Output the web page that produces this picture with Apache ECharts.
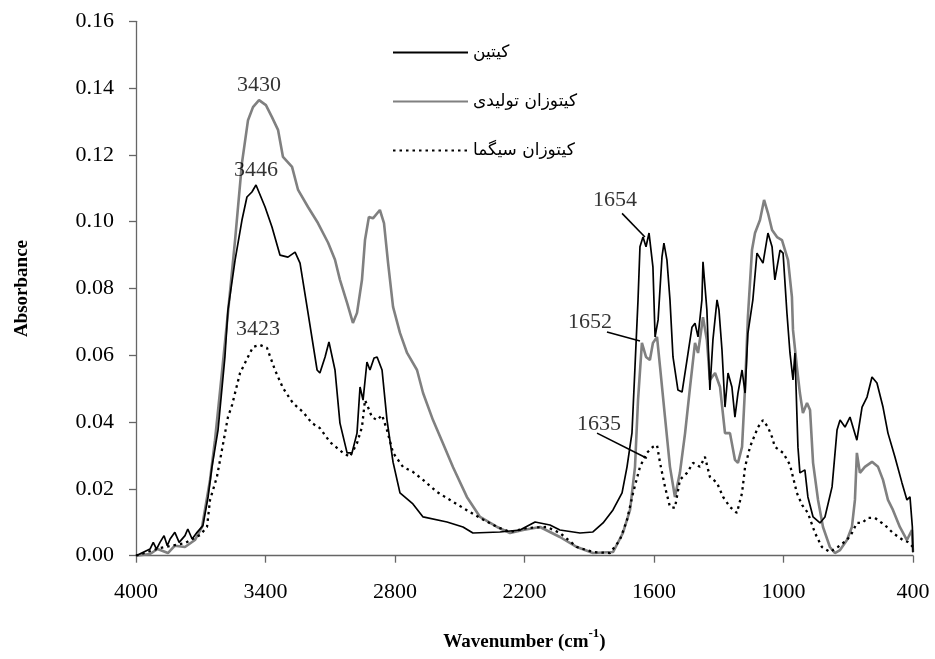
<!DOCTYPE html>
<html>
<head>
<meta charset="utf-8">
<script src="https://cdn.jsdelivr.net/npm/echarts@6/dist/echarts.min.js"></script>
<style>
html,body{margin:0;padding:0;background:#fff;}
#chart{width:935px;height:659px;}
</style>
</head>
<body>
<div id="chart"></div>
<script>
// ---- data ----
const seriesNames = ['کیتین', 'کیتوزان تولیدی', 'کیتوزان سیگما'];
const xTickValues = [4000, 3400, 2800, 2200, 1600, 1000, 400];

const chitinWn = [4000,3935,3920,3905,3889,3870,3855,3842,3820,3800,3773,3760,3740,3717,3690,3666,3648,3620,3588,3574,3541,3509,3486,3463,3444,3402,3370,3333,3296,3263,3240,3203,3161,3148,3124,3106,3078,3055,3022,2999,2976,2962,2948,2930,2916,2897,2883,2860,2837,2809,2777,2717,2670,2559,2485,2439,2314,2221,2151,2082,2036,1943,1883,1836,1790,1748,1725,1702,1688,1674,1665,1651,1637,1623,1605,1595,1581,1563,1554,1540,1526,1512,1489,1470,1447,1424,1410,1396,1378,1373,1355,1341,1327,1308,1299,1285,1271,1257,1239,1225,1211,1192,1178,1165,1142,1123,1095,1072,1053,1040,1016,1002,984,970,956,947,933,924,901,887,863,831,808,775,752,738,715,692,660,636,613,590,567,539,516,484,451,428,414,403,400];
const chitinAbs = [0.000,0.002,0.004,0.002,0.004,0.006,0.003,0.005,0.007,0.004,0.006,0.008,0.005,0.007,0.009,0.0176,0.0266,0.0376,0.0595,0.0735,0.0885,0.1005,0.1074,0.1089,0.1110,0.1044,0.0984,0.0900,0.0894,0.0909,0.0876,0.0727,0.0556,0.0547,0.0595,0.0640,0.0556,0.0397,0.0308,0.0308,0.0367,0.0505,0.0466,0.0580,0.0556,0.0592,0.0595,0.0556,0.0406,0.0280,0.0188,0.0155,0.0116,0.0101,0.0086,0.0068,0.0071,0.0077,0.0101,0.0092,0.0077,0.0068,0.0071,0.0098,0.0137,0.0188,0.0266,0.0368,0.0566,0.0766,0.0925,0.0954,0.0925,0.0966,0.0865,0.0655,0.0706,0.0895,0.0936,0.0885,0.0766,0.0595,0.0496,0.0490,0.0586,0.0684,0.0696,0.0655,0.0766,0.0880,0.0736,0.0496,0.0646,0.0766,0.0736,0.0616,0.0445,0.0547,0.0505,0.0415,0.0487,0.0556,0.0487,0.0666,0.0766,0.0906,0.0876,0.0966,0.0925,0.0826,0.0915,0.0906,0.0726,0.0607,0.0526,0.0607,0.0325,0.0248,0.0257,0.0176,0.0116,0.0098,0.0116,0.0206,0.0376,0.0406,0.0385,0.0415,0.0346,0.0445,0.0475,0.0535,0.0517,0.0445,0.0367,0.0296,0.0218,0.0167,0.0176,0.0086,0.001];

const producedWn = [4000,3935,3900,3852,3820,3773,3727,3694,3657,3634,3602,3574,3541,3509,3481,3458,3430,3398,3370,3342,3319,3277,3249,3203,3157,3110,3078,3055,3022,2995,2976,2953,2939,2921,2902,2870,2851,2832,2809,2777,2744,2698,2670,2624,2578,2531,2467,2406,2327,2267,2207,2128,2036,1957,1883,1790,1744,1711,1688,1674,1656,1637,1619,1605,1586,1572,1549,1526,1503,1480,1456,1433,1410,1396,1373,1355,1341,1317,1294,1271,1248,1225,1211,1192,1178,1165,1146,1132,1109,1090,1072,1053,1030,1007,993,979,961,956,938,924,910,891,877,863,840,817,785,762,738,706,683,669,660,646,623,590,562,539,516,493,461,428,405,400];
const producedAbs = [0.000,0.0005,0.002,0.0008,0.003,0.0026,0.0047,0.0086,0.0227,0.0346,0.0547,0.0727,0.0945,0.1176,0.1304,0.1343,0.1364,0.1349,0.1313,0.1275,0.1194,0.1164,0.1095,0.1044,0.0996,0.0937,0.0886,0.0826,0.0757,0.0697,0.0727,0.0826,0.0945,0.1014,0.1010,0.1035,0.0996,0.0876,0.0745,0.0667,0.0607,0.0556,0.0487,0.0406,0.0337,0.0265,0.0176,0.0116,0.0086,0.0068,0.0077,0.0086,0.0056,0.0026,0.0008,0.0011,0.0068,0.0137,0.0266,0.0466,0.0637,0.0595,0.0586,0.0637,0.0655,0.0565,0.0415,0.0266,0.0176,0.0248,0.0367,0.0505,0.0637,0.0607,0.0714,0.0646,0.0526,0.0547,0.0505,0.0367,0.0367,0.0287,0.0278,0.0326,0.0505,0.0714,0.0915,0.0966,0.1005,0.1065,0.1026,0.0975,0.0954,0.0945,0.0915,0.0885,0.0775,0.0676,0.0565,0.0487,0.0427,0.0457,0.0436,0.0278,0.0167,0.0086,0.0026,0.0008,0.0017,0.0047,0.0086,0.0167,0.0308,0.0248,0.0266,0.0281,0.0266,0.0227,0.0167,0.0137,0.0086,0.0047,0.0077,0.0011];

const sigmaWn = [4000,3889,3773,3703,3671,3657,3625,3602,3574,3555,3518,3495,3458,3426,3393,3356,3319,3273,3226,3185,3148,3101,3041,3009,2976,2953,2939,2925,2907,2883,2860,2837,2809,2763,2717,2670,2606,2545,2485,2406,2327,2267,2189,2096,2036,1957,1883,1804,1758,1725,1697,1665,1633,1605,1586,1572,1549,1526,1503,1480,1447,1419,1387,1364,1341,1308,1280,1248,1216,1192,1178,1155,1118,1095,1072,1053,1040,1002,970,938,914,887,854,822,785,748,706,683,660,636,609,576,544,521,493,447,424,400];
const sigmaAbs = [0.000,0.0023,0.0038,0.0062,0.0086,0.0167,0.0236,0.0316,0.0415,0.0451,0.0547,0.0577,0.0625,0.0631,0.0622,0.0556,0.0502,0.0457,0.0430,0.0397,0.0382,0.0340,0.0308,0.0296,0.0337,0.0385,0.0466,0.0445,0.0415,0.0406,0.0421,0.0376,0.0308,0.0266,0.0251,0.0227,0.0191,0.0167,0.0143,0.0113,0.0086,0.0071,0.0083,0.0086,0.0068,0.0026,0.0011,0.0008,0.0047,0.0107,0.0188,0.0266,0.0308,0.0326,0.0331,0.0278,0.0206,0.0146,0.0143,0.0227,0.0248,0.0278,0.0266,0.0296,0.0236,0.0218,0.0176,0.0146,0.0128,0.0188,0.0266,0.0326,0.0385,0.0406,0.0385,0.0355,0.0326,0.0308,0.0272,0.0188,0.0152,0.0128,0.0068,0.0026,0.0011,0.0026,0.0047,0.0068,0.0098,0.0098,0.0113,0.0113,0.0098,0.0086,0.0068,0.0047,0.0041,0.0026];

const peakLabels = ['3430', '3446', '3423', '1654', '1652', '1635'];

// ---- presentation ----
const serif = '"Liberation Serif", "Times New Roman", serif';
function pairs(xs, ys) { return xs.map((x, i) => [x, ys[i]]); }

// label anchors and leader lines in data coordinates (layout)
const labelAnchors = [[3430, 0.1409], [3444, 0.1155], [3435, 0.0679], [1781, 0.1065], [1897, 0.0700], [1855, 0.0394]];
const leaders = [
  [[1748, 0.1025], [1642, 0.0954]],
  [[1818, 0.0670], [1665, 0.0643]],
  [[1864, 0.0367], [1633, 0.0292]]
];

const chart = echarts.init(document.getElementById('chart'), null, { renderer: 'canvas' });
chart.setOption({
  animation: false,
  backgroundColor: '#fff',
  grid: { left: 136, right: 22, top: 21.3, bottom: 103.3, containLabel: false },
  legend: {
    orient: 'vertical',
    left: 392,
    top: 44,
    padding: 0,
    itemWidth: 75,
    itemHeight: 14,
    itemGap: 32,
    itemStyle: { opacity: 0 },
    data: seriesNames,
    textStyle: { fontFamily: '"DejaVu Sans", sans-serif', fontSize: 17, color: '#000' }
  },
  xAxis: {
    type: 'value',
    inverse: true,
    min: 400,
    max: 4000,
    name: '{b|Wavenumber (cm}{s|-1}{b|)}',
    nameLocation: 'middle',
    nameGap: 71,
    nameTextStyle: {
      rich: {
        b: { fontFamily: serif, fontSize: 19, fontWeight: 'bold', color: '#000', lineHeight: 25, verticalAlign: 'bottom' },
        s: { fontFamily: serif, fontSize: 13, fontWeight: 'bold', color: '#000', lineHeight: 25, verticalAlign: 'top' }
      }
    },
    axisLine: { show: true, lineStyle: { color: '#666', width: 1.3 } },
    axisTick: { show: true, inside: false, length: 7, lineStyle: { color: '#666', width: 1.3 }, customValues: xTickValues },
    axisLabel: { show: true, margin: 26, fontFamily: serif, fontSize: 22, color: '#000', customValues: xTickValues, formatter: v => String(v) },
    splitLine: { show: false }
  },
  yAxis: {
    type: 'value',
    min: 0,
    max: 0.16,
    interval: 0.02,
    name: 'Absorbance',
    nameLocation: 'middle',
    nameGap: 104,
    nameTextStyle: { fontFamily: serif, fontSize: 19, fontWeight: 'bold', color: '#000' },
    axisLine: { show: true, lineStyle: { color: '#666', width: 1.3 } },
    axisTick: { show: true, inside: false, length: 7, lineStyle: { color: '#666', width: 1.3 } },
    axisLabel: { margin: 22, fontFamily: serif, fontSize: 22, color: '#000', formatter: v => v.toFixed(2) },
    splitLine: { show: false }
  },
  series: [
    {
      name: seriesNames[0], type: 'line', data: pairs(chitinWn, chitinAbs),
      symbol: 'none', z: 3, color: '#000',
      lineStyle: { color: '#000', width: 1.7 },
      markLine: {
        silent: true, symbol: 'none', animation: false,
        lineStyle: { color: '#000', width: 1.6, type: 'solid' },
        label: { show: false },
        data: leaders.map(l => [{ coord: l[0] }, { coord: l[1] }])
      }
    },
    {
      name: seriesNames[1], type: 'line', data: pairs(producedWn, producedAbs),
      symbol: 'none', z: 2, color: '#808080',
      lineStyle: { color: '#808080', width: 2.6 }
    },
    {
      name: seriesNames[2], type: 'line', data: pairs(sigmaWn, sigmaAbs),
      symbol: 'none', z: 4, color: '#000',
      lineStyle: { color: '#000', width: 2.3, type: [2.5, 4] }
    },
    {
      name: 'labels', type: 'scatter', symbolSize: 0, z: 5, silent: true,
      data: labelAnchors.map((p, i) => ({ value: p, name: peakLabels[i] })),
      label: {
        show: true, position: 'inside', formatter: p => p.name,
        fontFamily: serif, fontSize: 22, color: '#000'
      }
    }
  ]
});
</script>
</body>
</html>
